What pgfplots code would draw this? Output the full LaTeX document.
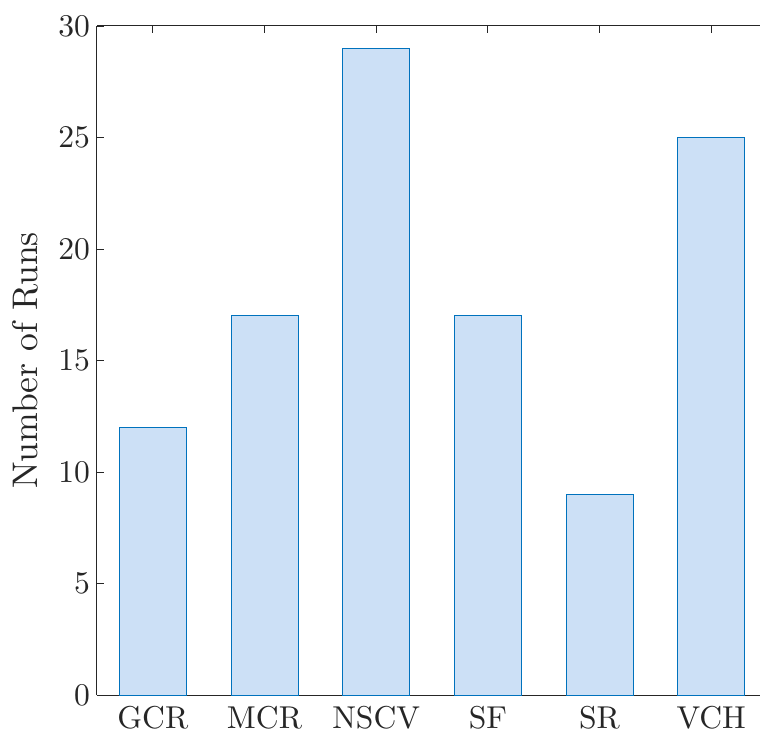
\documentclass[border=0pt]{standalone}
\usepackage{fontspec}
\setmainfont{lmroman10-regular.otf}
\usepackage{pgfplots}
\pgfplotsset{compat=1.18}
\definecolor{axgray}{RGB}{38,38,38}
\definecolor{barfill}{RGB}{204,224,246}
\definecolor{baredge}{RGB}{0,114,189}
\pgfplotsset{
  common/.style={
    scale only axis,
    width=331.5pt, height=334.5pt,
    xmin=0.5, xmax=6.437,
    ymin=0, ymax=30,
    xtick={1,2,3,4,5,6},
    tick align=inside,
    major tick length=3.5pt,
    axis line style={-, axgray, line width=0.5pt},
    tick style={axgray, line width=0.5pt},
    /pgf/number format/assume math mode=true,
    ticklabel style={font=\fontsize{15.8}{19}\selectfont, text=axgray},
  }
}
\begin{document}
\begin{tikzpicture}
\path[use as bounding box] (-48.5pt,-20.5pt) rectangle (331.5pt,347.5pt);
\begin{axis}[
  common,
  ytick={0,5,...,30},
  xticklabels={GCR,MCR,NSCV,SF,SR,VCH},
  axis x line*=bottom,
  axis y line*=left,
  xticklabel style={yshift=-2.2pt},
  ylabel={Number of Runs},
  ylabel style={font=\fontsize{17.8}{21}\selectfont, text=axgray, at={(axis description cs:-0.1086,0.5)}, anchor=center},
]
\addplot[ybar, bar width=0.6, fill=barfill, draw=baredge, line width=0.5pt]
  coordinates {(1,12) (2,17) (3,29) (4,17) (5,9) (6,25)};
\end{axis}
\begin{axis}[
  common,
  axis x line*=top,
  axis y line=none,
  xticklabels={},
]
\end{axis}
\end{tikzpicture}
\end{document}
